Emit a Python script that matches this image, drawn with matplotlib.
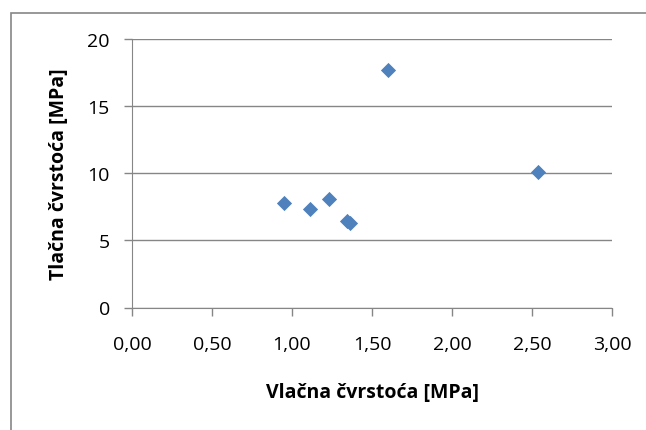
import matplotlib.pyplot as plt
from matplotlib.patches import Rectangle

# podaci ocitani sa slike
vlacna = [0.95, 1.11, 1.23, 1.345, 1.36, 1.60, 2.54]
tlacna = [7.8, 7.35, 8.1, 6.45, 6.3, 17.7, 10.1]

x_ticks = [0.0, 0.5, 1.0, 1.5, 2.0, 2.5, 3.0]
y_ticks = [0, 5, 10, 15, 20]

plt.rcParams['font.family'] = ['Open Sans', 'DejaVu Sans']

fig = plt.figure(figsize=(6.46, 4.31), dpi=100)
ax = fig.add_axes([132 / 646, 1 - 308.5 / 431, 480 / 646, 268.5 / 431])

ax.scatter(vlacna, tlacna, marker='D', s=60, color='#4F81BD', zorder=3, linewidths=0)

ax.set_xlim(0, 3)
ax.set_ylim(0, 20)
ax.set_xticks(x_ticks)
ax.set_xticklabels([f"{v:.2f}".replace('.', ',') for v in x_ticks])
ax.set_yticks(y_ticks)

ax.yaxis.grid(True, color='#868686', linewidth=1)
ax.set_axisbelow(True)
for s in ['top', 'right']:
    ax.spines[s].set_visible(False)
for s in ['left', 'bottom']:
    ax.spines[s].set_color('#868686')
ax.tick_params(axis='both', colors='#868686', length=6, width=1, labelsize=14,
               labelcolor='black')
ax.tick_params(axis='x', pad=14)
ax.tick_params(axis='y', pad=10)

ax.set_xlabel("Vlačna čvrstoća [MPa]", fontsize=14, fontweight='bold', labelpad=21)
ax.set_ylabel("Tlačna čvrstoća [MPa]", fontsize=14, fontweight='bold', labelpad=13)

# okvir grafikona
fig.patches.append(Rectangle((10.5 / 646, -0.1), 1.2, 1.1 - 13.5 / 431,
                             transform=fig.transFigure, fill=False,
                             edgecolor='#868686', linewidth=1.2))

fig.savefig('out.png', dpi=100)
